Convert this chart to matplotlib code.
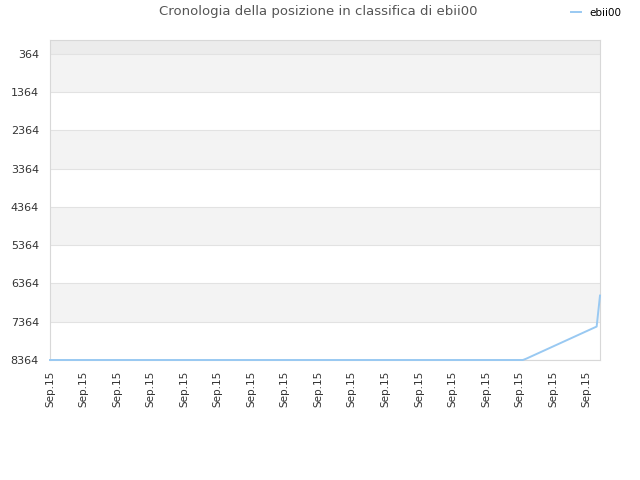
import matplotlib
matplotlib.use("Agg")
import matplotlib.pyplot as plt

title = "Cronologia della posizione in classifica di ebii00"
series_name = "ebii00"

# rank per giorno (indice), piatto in fondo e poi risale
flat_ranks = [8364] * 142
rising_ranks = [8330, 8290, 8250, 8210, 8170, 8130, 8090, 8050, 8010, 7970,
                7930, 7890, 7850, 7810, 7770, 7730, 7690, 7650, 7610, 7570,
                7530, 7490, 7075, 6680]
ranks = flat_ranks + rising_ranks
days = list(range(len(flat_ranks) + 22)) + [163.5, 164]

y_ticks = [364, 1364, 2364, 3364, 4364, 5364, 6364, 7364, 8364]
x_ticks = list(range(0, 161, 10))
x_labels = ["Sep.15"] * len(x_ticks)

fig = plt.figure(figsize=(6.4, 4.8), dpi=100)
ax = fig.add_axes([50 / 640, 1 - 360 / 480, 550 / 640, 320 / 480])

ax.set_xlim(0, 164)
ax.set_ylim(8364, 0)

# bande alternate
ax.axhspan(0, 364, color="#ececec", zorder=0, lw=0)
for i in range(len(y_ticks) - 1):
    if i % 2 == 0:
        ax.axhspan(y_ticks[i], y_ticks[i + 1], color="#f3f3f3", zorder=0, lw=0)
for yt in y_ticks:
    ax.axhline(yt, color="#e2e2e2", lw=0.8, zorder=1)

ax.plot(days, ranks, color="#99c9f2", lw=1.4, zorder=3, label=series_name,
        clip_on=False)

ax.set_yticks(y_ticks)
ax.set_yticklabels([str(v) for v in y_ticks], fontsize=8, color="#333333")
ax.set_xticks(x_ticks)
ax.set_xticklabels(x_labels, rotation=90, fontsize=7.5, color="#333333")
ax.tick_params(axis="y", length=0, pad=8)
ax.tick_params(axis="x", length=0, pad=8)
for s in ax.spines.values():
    s.set_color("#d8d8d8")

fig.text(318 / 640, 1 - 12 / 480, title, ha="center", va="center",
         fontsize=9.5, color="#555555")
fig.legend(loc="center", bbox_to_anchor=(596 / 640, 1 - 13 / 480),
           frameon=False, fontsize=7.5, handlelength=1.0, handletextpad=0.8)

fig.savefig("out.png", dpi=100)
